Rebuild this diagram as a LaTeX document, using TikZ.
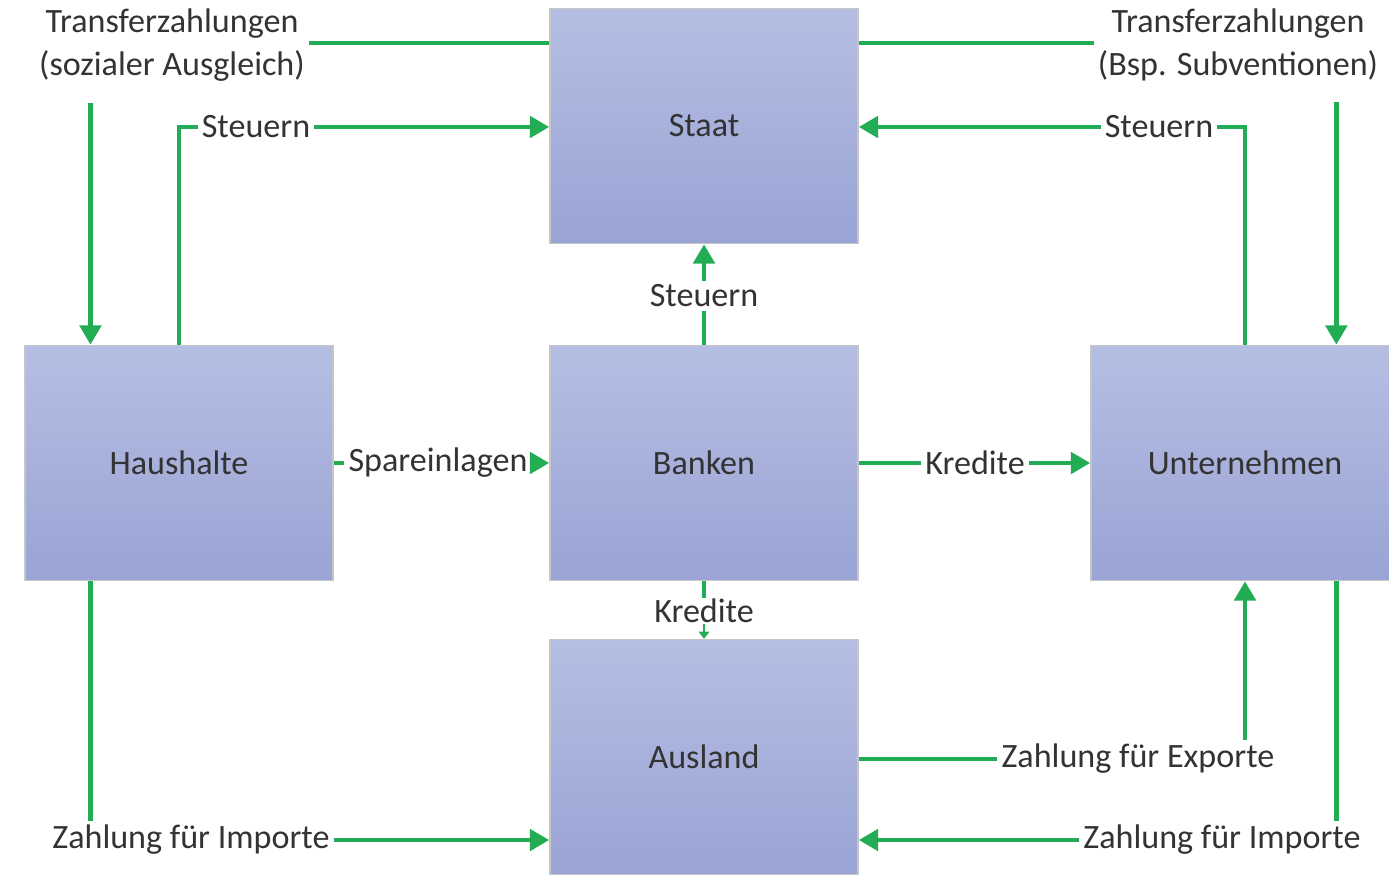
\documentclass[tikz,border=0pt]{standalone}
\usepackage{fontspec}
\setmainfont{Carlito}
\usepackage{tikz}
\usetikzlibrary{arrows.meta, calc, positioning}

\definecolor{boxtop}{HTML}{B5BEE2}
\definecolor{boxbot}{HTML}{9AA4D5}
\definecolor{flowgreen}{HTML}{22AD55}
\definecolor{txtgray}{HTML}{333333}

\begin{document}
\begin{tikzpicture}[x=0.01cm, y=-0.01cm, >={Triangle[length=5.5pt,width=6pt]},
    font=\fontsize{9.7}{12}\selectfont, text=txtgray,
    sector/.style={draw=gray!45, line width=0.4pt, top color=boxtop, bottom color=boxbot,
        minimum width=3.08cm, minimum height=2.35cm, inner sep=0pt},
    flow/.style={draw=flowgreen, line width=1.4pt},
    lbl/.style={inner sep=1pt, align=center}]
    \useasboundingbox (0,0) rectangle (1389,876);
    % sectors
    \node[sector] (staat) at (704,126) {Staat};
    \node[sector] (haus) at (179,463) {Haushalte};
    \node[sector] (bank) at (704,463) {Banken};
    \node[sector] (unter) at (1245,463) {Unternehmen};
    \node[sector] (ausl) at (704,757) {Ausland};
    % labels
    \node[lbl] (tl) at (172,45) {Transferzahlungen\\(sozialer Ausgleich)};
    \node[lbl] (tr) at (1238,45) {Transferzahlungen\\(Bsp. Subventionen)};
    \node[lbl] (stl) at (256,127) {Steuern};
    \node[lbl] (str) at (1159,127) {Steuern};
    \node[lbl] (stm) at (704,296) {Steuern};
    \node[lbl] (spar) at (438,463) {Spareinlagen};
    \node[lbl] (krr) at (975,463) {Kredite};
    \node[lbl, inner sep=0pt] (krm) at (704,611) {Kredite};
    \node[lbl] (zil) at (191,840) {Zahlung für Importe};
    \node[lbl] (zex) at (1138,759) {Zahlung für Exporte};
    \node[lbl] (zir) at (1222,840) {Zahlung für Importe};
    \coordinate (hausA) at ($(haus.north west)!0.214!(haus.north east)$);
    \coordinate (unterA) at ($(unter.north west)!0.795!(unter.north east)$);
    % flows
    \draw[flow] (staat.west |- 0,43) -- (tl.east |- 0,43);
    \draw[flow, ->, shorten <=5pt] (tl.south -| hausA) -- (hausA);
    \draw[flow] (haus.north) |- (stl.west);
    \draw[flow, ->] (stl.east) -- (staat.west |- stl);
    \draw[flow] (staat.east |- 0,43) -- (tr.west |- 0,43);
    \draw[flow, ->, shorten <=5pt] (tr.south -| unterA) -- (unterA);
    \draw[flow] (unter.north) |- (str.east);
    \draw[flow, ->] (str.west) -- (staat.east |- str);
    \draw[flow] (bank.north) -- (stm.south);
    \draw[flow, ->] (stm.north) -- (staat.south);
    \draw[flow] (haus.east) -- (spar.west);
    \draw[flow, ->] (spar.east) -- (bank.west);
    \draw[flow] (bank.east) -- (krr.west);
    \draw[flow, ->] (krr.east) -- (unter.west);
    \draw[flow] (bank.south) -- (krm.north);
    \draw[flow, line width=0.8pt, -{Triangle[length=2pt,width=3pt]}] (krm.south) -- (ausl.north);
    \draw[flow] (haus.south -| hausA) -- (zil.north -| hausA);
    \draw[flow, ->] (zil.east) -- (ausl.west |- zil);
    \draw[flow] (ausl.east |- zex) -- (zex.west);
    \draw[flow, ->] (zex.north -| unter.south) -- (unter.south);
    \draw[flow] (unter.south -| unterA) -- (zir.north -| unterA);
    \draw[flow, ->] (zir.west) -- (ausl.east |- zir);
\end{tikzpicture}
\end{document}
